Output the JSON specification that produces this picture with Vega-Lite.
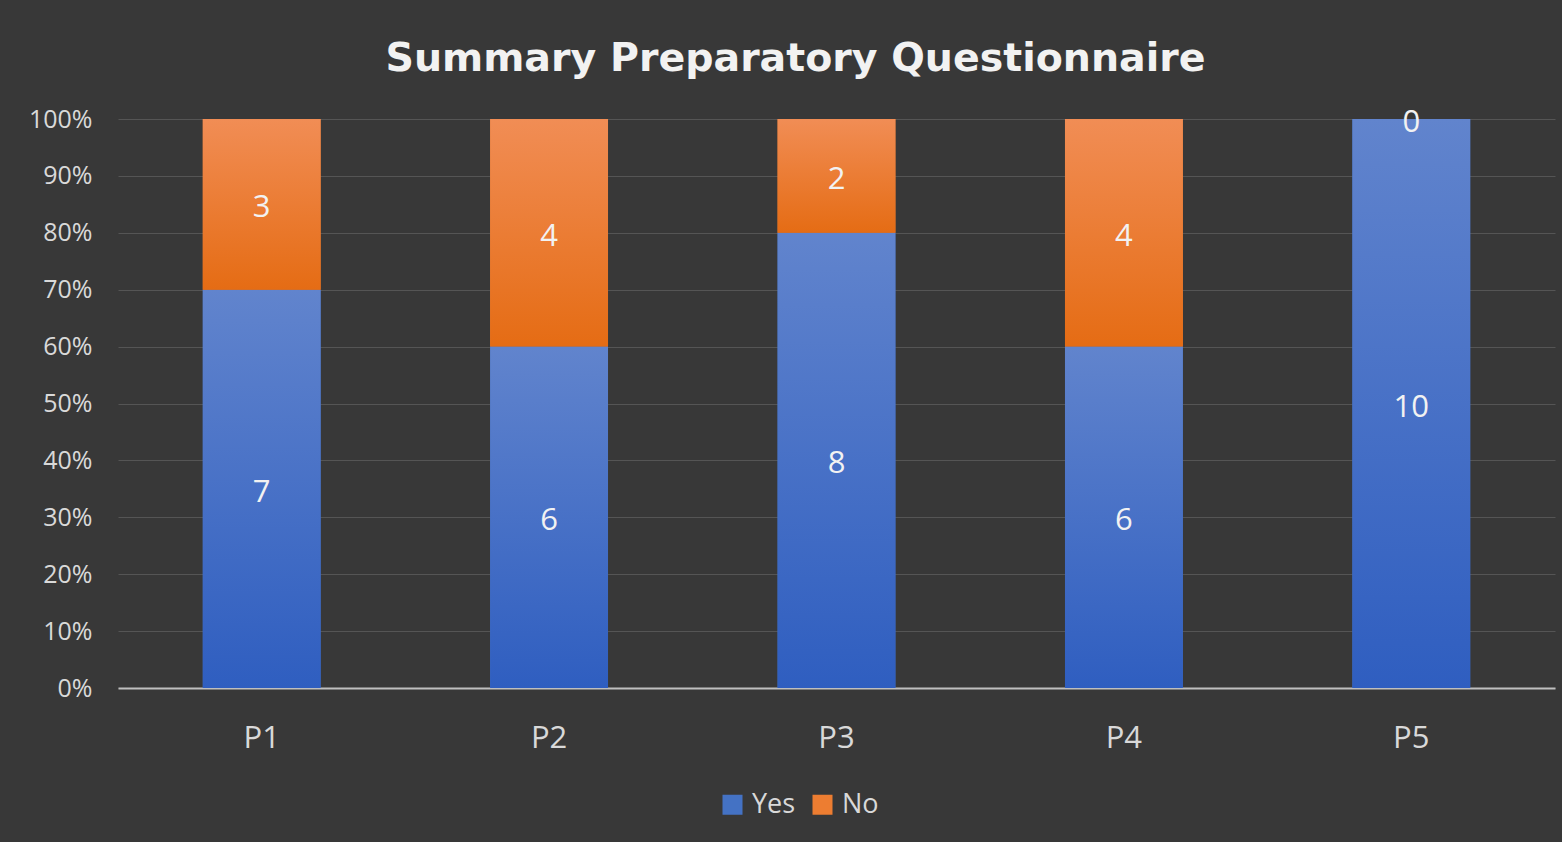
{
  "$schema": "https://vega.github.io/schema/vega-lite/v6.json",
  "autosize": "none",
  "width": 1437,
  "height": 569,
  "padding": {"left": 118, "top": 119, "right": 7, "bottom": 154},
  "background": "#383838",
  "title": {
    "text": "Summary Preparatory Questionnaire",
    "fontSize": 39.5,
    "font": "DejaVu Sans",
    "fontWeight": "bold",
    "color": "#f2f2f2",
    "anchor": "middle",
    "dx": -41,
    "offset": 28
  },
  "config": {
    "view": {"stroke": null},
    "font": "Open Sans"
  },
  "data": {
    "values": [
      {"q": "P1", "answer": "Yes", "count": 7},
      {"q": "P1", "answer": "No", "count": 3},
      {"q": "P2", "answer": "Yes", "count": 6},
      {"q": "P2", "answer": "No", "count": 4},
      {"q": "P3", "answer": "Yes", "count": 8},
      {"q": "P3", "answer": "No", "count": 2},
      {"q": "P4", "answer": "Yes", "count": 6},
      {"q": "P4", "answer": "No", "count": 4},
      {"q": "P5", "answer": "Yes", "count": 10},
      {"q": "P5", "answer": "No", "count": 0}
    ]
  },
  "encoding": {
    "x": {
      "field": "q",
      "type": "nominal",
      "scale": {"paddingInner": 0.59, "paddingOuter": 0.295},
      "axis": {
        "title": null,
        "labelAngle": 0,
        "labelFontSize": 31,
        "labelColor": "#d9d9d9",
        "labelPadding": 35,
        "ticks": false,
        "domainColor": "#bfbfbf",
        "domainWidth": 2
      }
    },
    "y": {
      "field": "count",
      "type": "quantitative",
      "stack": "normalize",
      "axis": {
        "title": null,
        "format": ".0%",
        "values": [0, 0.1, 0.2, 0.3, 0.4, 0.5, 0.6, 0.7, 0.8, 0.9, 1],
        "labelFontSize": 25,
        "labelColor": "#d9d9d9",
        "labelPadding": 26,
        "ticks": false,
        "domain": false,
        "gridColor": "#555555",
        "gridWidth": 1
      }
    },
    "order": {"field": "answer", "sort": "descending"}
  },
  "layer": [
    {
      "mark": {"type": "bar"},
      "encoding": {
        "color": {
          "field": "answer",
          "type": "nominal",
          "scale": {"domain": ["Yes", "No"], "range": ["#4472c4", "#ed7d31"]},
          "legend": {
            "title": null,
            "orient": "none",
            "direction": "horizontal",
            "legendX": 601,
            "legendY": 672,
            "symbolType": "square",
            "symbolSize": 400,
            "symbolStrokeWidth": 0,
            "labelFontSize": 27,
            "labelColor": "#d9d9d9",
            "labelOffset": 6,
            "columnPadding": 13
          }
        }
      }
    },
    {
      "mark": {"type": "bar"},
      "encoding": {
        "detail": {"field": "answer"},
        "fill": {
          "condition": {
            "test": "datum.answer === 'Yes'",
            "value": {
              "gradient": "linear", "x1": 0, "y1": 0, "x2": 0, "y2": 1,
              "stops": [{"offset": 0, "color": "#6184cd"}, {"offset": 1, "color": "#2f5ec0"}]
            }
          },
          "value": {
            "gradient": "linear", "x1": 0, "y1": 0, "x2": 0, "y2": 1,
            "stops": [{"offset": 0, "color": "#f18d55"}, {"offset": 1, "color": "#e56c14"}]
          }
        }
      }
    },
    {
      "mark": {"type": "text", "fontSize": 31, "color": "#f2f2f2", "baseline": "middle", "dy": 4},
      "encoding": {
        "detail": {"field": "answer"},
        "y": {"field": "count", "type": "quantitative", "stack": "normalize", "bandPosition": 0.5},
        "text": {"field": "count", "type": "quantitative"}
      }
    }
  ]
}
